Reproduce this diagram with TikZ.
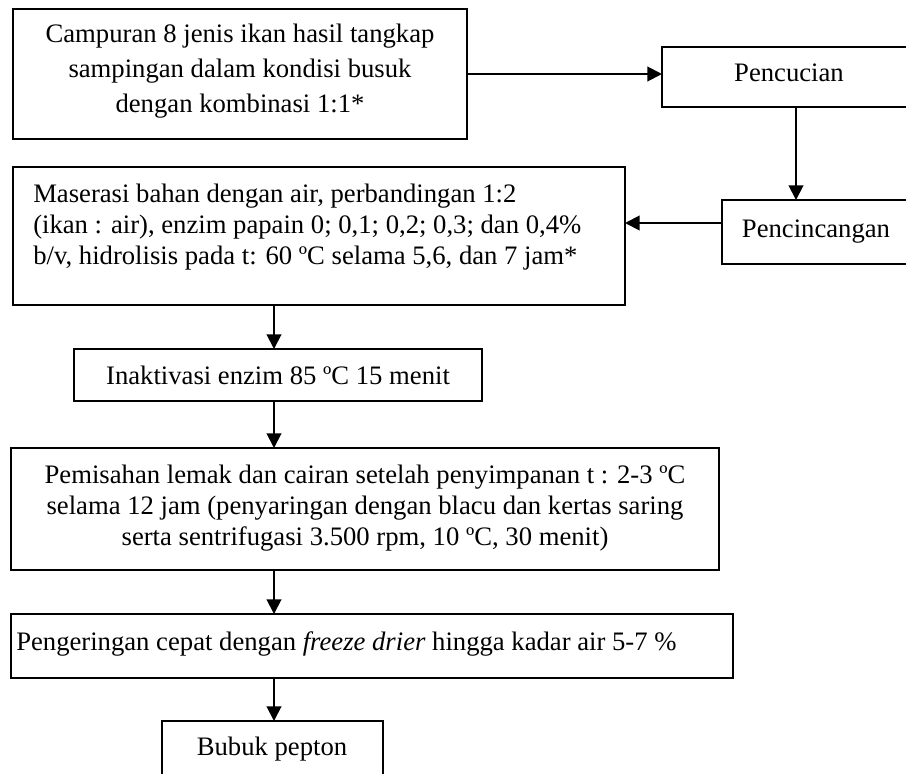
\documentclass[tikz,border=0pt]{standalone}
\usepackage{fontspec}
\setmainfont{Liberation Serif}
\usetikzlibrary{arrows.meta}
\tikzset{
  box/.style={draw, line width=1.4pt, rectangle, inner sep=0pt, outer sep=0pt, anchor=north west},
  txt/.style={font=\fontsize{20}{23.3}\selectfont, inner sep=0pt},
  arr/.style={line width=1.5pt, -{Triangle[length=11pt,width=11pt]}},
}
\begin{document}
\begin{tikzpicture}[x=0.75pt,y=-0.75pt]
\useasboundingbox (0,0) rectangle (906,774);
\clip (0,0) rectangle (906,774);
% boxes
\node[box, minimum width=454*0.75pt, minimum height=130*0.75pt] (b1) at (13,9) {};
\node[box, minimum width=260*0.75pt, minimum height=60*0.75pt] (pc) at (662,47) {};
\node[box, minimum width=200*0.75pt, minimum height=64*0.75pt] (pn) at (722,200) {};
\node[box, minimum width=612*0.75pt, minimum height=138*0.75pt] (ms) at (13,167) {};
\node[box, minimum width=408*0.75pt, minimum height=52*0.75pt] (in) at (74,349) {};
\node[box, minimum width=708*0.75pt, minimum height=122*0.75pt] (pm) at (11,448) {};
\node[box, minimum width=722*0.75pt, minimum height=64*0.75pt] (pg) at (11,614) {};
\node[box, minimum width=221*0.75pt, minimum height=70*0.75pt] (bp) at (162,721) {};
% texts
\node[txt, align=center, font=\fontsize{20}{26.5}\selectfont] (t1) at (240,71) {Campuran 8 jenis ikan hasil tangkap\\sampingan dalam kondisi busuk\\dengan kombinasi 1:1*};
\node[txt, anchor=base] (tpc) at (789,82) {Pencucian};
\node[txt, anchor=base] (tpn) at (816,237) {Pencincangan};
\node[txt, align=left, anchor=west] (tms) at (33,227) {Maserasi bahan dengan air, perbandingan 1:2\\(ikan : air), enzim papain 0; 0,1; 0,2; 0,3; dan 0,4\%\\b/v, hidrolisis pada t: 60 ºC selama 5,6, dan 7 jam*};
\node[txt, anchor=base] (tin) at (278,384) {Inaktivasi enzim 85 ºC 15 menit};
\node[txt, align=center] (tpm) at (365,508) {Pemisahan lemak dan cairan setelah penyimpanan t : 2-3 ºC\\selama 12 jam (penyaringan dengan blacu dan kertas saring\\serta sentrifugasi 3.500 rpm, 10 ºC, 30 menit)};
\node[txt, anchor=base west] (tpg) at (16,650) {Pengeringan cepat dengan \textit{freeze drier} hingga kadar air 5-7 \%};
\node[txt, anchor=base] (tbp) at (272,755) {Bubuk pepton};
% connectors
\coordinate (ax) at (274,0);
\coordinate (a2) at (796,0);
\coordinate (a3) at (0,223);
\draw[arr] (b1.east) -- (b1.east -| pc.west);
\draw[arr] (pc.south -| a2) -- (pn.north -| a2);
\draw[arr] (pn.west |- a3) -- (ms.east |- a3);
\draw[arr] (ms.south -| ax) -- (in.north -| ax);
\draw[arr] (in.south -| ax) -- (pm.north -| ax);
\draw[arr] (pm.south -| ax) -- (pg.north -| ax);
\draw[arr] (pg.south -| ax) -- (bp.north -| ax);
\end{tikzpicture}
\end{document}
